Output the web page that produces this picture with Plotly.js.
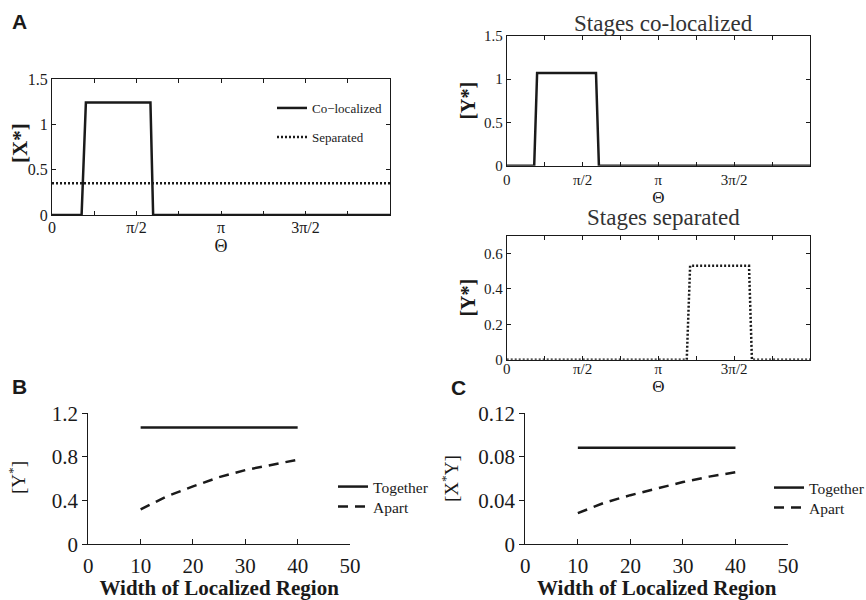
<!DOCTYPE html>
<html>
<head>
<meta charset="utf-8">
<script src="https://cdn.plot.ly/plotly-3.0.1.min.js"></script>
<style>html,body{margin:0;padding:0;background:#fff;overflow:hidden}#chart{width:866px;height:600px;overflow:hidden}</style>
</head>
<body>
<div id="chart"></div>
<script>
// ---- data ----
const PI = Math.PI;
// Panel A: [X*] vs Theta
const thetaCoA = [0, 0.55, 0.63, 1.83, 1.88, 2 * PI];
const xStarCo = [0, 0, 1.24, 1.24, 0, 0];
const thetaSepA = [0, 2 * PI];
const xStarSep = [0.35, 0.35];
// Top right: [Y*] stages co-localized
const thetaCoY = [0, 0.57, 0.63, 1.85, 1.91, 2 * PI];
const yStarCo = [0, 0, 1.07, 1.07, 0, 0];
// Middle right: [Y*] stages separated
const thetaSepY = [0, 3.73, 3.80, 5.02, 5.08, 2 * PI];
const yStarSep = [0, 0, 0.53, 0.53, 0, 0];
// Panel B / C: vs width of localized region
const width = [10, 15, 20, 25, 30, 35, 40];
const yTogether = [1.07, 1.07, 1.07, 1.07, 1.07, 1.07, 1.07];
const yApart = [0.32, 0.44, 0.53, 0.615, 0.68, 0.73, 0.775];
const xyTogether = [0.0885, 0.0885, 0.0885, 0.0885, 0.0885, 0.0885, 0.0885];
const xyApart = [0.0285, 0.038, 0.045, 0.051, 0.057, 0.062, 0.066];
// tick labels
const thetaTickVals = [0, PI / 2, PI, 3 * PI / 2];
const thetaTickText = ['0', 'π/2', 'π', '3π/2'];

// ---- layout helpers ----
const W = 866, H = 600;
const dx = (a, b) => [a / W, b / W];
const dy = (t, b) => [1 - b / H, 1 - t / H];
const SERIF = 'Liberation Serif';
const INK = '#1a1a1a';

function thetaAxis(domain, anchor, fs, lblOff) {
  return {
    domain: domain, anchor: anchor, range: [0, 2 * PI], tickmode: 'array',
    tickvals: thetaTickVals, ticktext: thetaTickText, ticks: 'inside', ticklen: 4,
    tickcolor: INK, showline: true, linecolor: INK, linewidth: 1, mirror: 'ticks',
    showgrid: false, zeroline: false, tickfont: {family: SERIF, size: fs, color: INK},
    ticklabelstandoff: lblOff,
    minor: {dtick: PI / 4, tick0: 0, ticks: 'inside', ticklen: 4, tickcolor: INK, showgrid: false},
    title: {text: 'Θ', font: {family: SERIF, size: fs + 2, color: INK}, standoff: 0}
  };
}
function valAxis(domain, anchor, range, tickvals, fs, title, tfs, standoff) {
  return {
    domain: domain, anchor: anchor, range: range, tickmode: 'array', tickvals: tickvals,
    ticks: 'inside', ticklen: 4, tickcolor: INK, showline: true, linecolor: INK, linewidth: 1,
    mirror: 'ticks', showgrid: false, zeroline: false,
    tickfont: {family: SERIF, size: fs, color: INK},
    title: {text: title, font: {family: SERIF, size: tfs, color: INK}, standoff: standoff}
  };
}
function plainAxis(domain, anchor, range, dtick, tickDir, lblOff, title, tfs, standoff) {
  return {
    domain: domain, anchor: anchor, range: range, tickmode: 'linear', tick0: 0, dtick: dtick,
    ticks: tickDir, ticklen: 5, tickcolor: INK, showline: true, linecolor: INK, linewidth: 1,
    mirror: false, showgrid: false, zeroline: false, ticklabelstandoff: lblOff,
    tickfont: {family: SERIF, size: 21, color: INK},
    title: {text: title, font: {family: SERIF, size: tfs, color: INK}, standoff: standoff}
  };
}

const traces = [
  {x: thetaCoA, y: xStarCo, xaxis: 'x', yaxis: 'y', type: 'scatter', mode: 'lines', name: 'Co−localized',
   line: {color: INK, width: 2.5}, legend: 'legend'},
  {x: thetaSepA, y: xStarSep, xaxis: 'x', yaxis: 'y', type: 'scatter', mode: 'lines', name: 'Separated',
   line: {color: INK, width: 2.5, dash: '2px,2px'}, legend: 'legend2'},
  {x: thetaCoY, y: yStarCo, xaxis: 'x2', yaxis: 'y2', type: 'scatter', mode: 'lines', name: 'Co-localized Y',
   line: {color: INK, width: 2.5}, showlegend: false},
  {x: thetaSepY, y: yStarSep, xaxis: 'x3', yaxis: 'y3', type: 'scatter', mode: 'lines', name: 'Separated Y',
   line: {color: INK, width: 2.5, dash: '2px,2px'}, showlegend: false},
  {x: width, y: yTogether, xaxis: 'x4', yaxis: 'y4', type: 'scatter', mode: 'lines', name: 'Together',
   line: {color: INK, width: 2.5}, legend: 'legend3'},
  {x: width, y: yApart, xaxis: 'x4', yaxis: 'y4', type: 'scatter', mode: 'lines', name: 'Apart',
   line: {color: INK, width: 2.5, dash: '10px,7px'}, legend: 'legend4'},
  {x: width, y: xyTogether, xaxis: 'x5', yaxis: 'y5', type: 'scatter', mode: 'lines', name: 'Together',
   line: {color: INK, width: 2.5}, legend: 'legend5'},
  {x: width, y: xyApart, xaxis: 'x5', yaxis: 'y5', type: 'scatter', mode: 'lines', name: 'Apart',
   line: {color: INK, width: 2.5, dash: '10px,7px'}, legend: 'legend6'}
];

function leg(x, yTop, fs) {
  return {bgcolor: 'rgba(0,0,0,0)', borderwidth: 0, xanchor: 'left', yanchor: 'top', itemwidth: 30,
    x: x / W, y: 1 - yTop / H, font: {family: SERIF, size: fs, color: INK}};
}
function yTitle(text, xc, yc, fs) {
  return {text: text, x: xc / W, y: 1 - yc / H, xref: 'paper', yref: 'paper', xanchor: 'center',
    yanchor: 'middle', textangle: -90, showarrow: false, font: {family: SERIF, size: fs, color: INK}};
}

const layout = {
  width: W, height: H, autosize: false, margin: {l: 0, r: 0, t: 0, b: 0, autoexpand: false},
  paper_bgcolor: '#fff', plot_bgcolor: '#fff', showlegend: true,
  xaxis: thetaAxis(dx(52, 390), 'y', 16, -2),
  yaxis: valAxis(dy(79, 215), 'x', [0, 1.5], [0, 0.5, 1, 1.5], 16, '', 21, 0),
  xaxis2: thetaAxis(dx(506.7, 810), 'y2', 15, 0),
  yaxis2: valAxis(dy(35.7, 165.7), 'x2', [0, 1.5], [0, 0.5, 1, 1.5], 15, '<b>[Y*]</b>', 20, 2),
  xaxis3: thetaAxis(dx(506.7, 810), 'y3', 15, -5),
  yaxis3: valAxis(dy(235.7, 359.7), 'x3', [0, 0.7], [0, 0.2, 0.4, 0.6], 15, '<b>[Y*]</b>', 20, 2),
  xaxis4: plainAxis(dx(88.3, 350), 'y4', [0, 50], 10, 'inside', 2, '<b>Width of Localized Region</b>', 21, 8),
  yaxis4: plainAxis(dy(413.3, 544.3), 'x4', [0, 1.2], 0.4, 'outside', 0, '', 19, 0),
  xaxis5: plainAxis(dx(525.3, 788), 'y5', [0, 50], 10, 'inside', 2, '<b>Width of Localized Region</b>', 21, 8),
  yaxis5: plainAxis(dy(413.3, 544.3), 'x5', [0, 0.12], 0.04, 'outside', 0, '', 19, 0),
  legend: leg(272, 93, 13),
  legend2: leg(272, 122, 13),
  legend3: leg(333, 470, 15.5),
  legend4: leg(333, 490, 15.5),
  legend5: leg(769, 471, 15.5),
  legend6: leg(769, 491, 15.5),
  annotations: [
    yTitle('<b>[X*]</b>', 20, 143, 21),
    yTitle('[Y<sup>*</sup>]', 17, 478, 19),
    yTitle('[X<sup>*</sup>Y]', 450, 479, 19),
    {text: '<b>A</b>', x: 10 / W, y: 1 - 22 / H, xref: 'paper', yref: 'paper', xanchor: 'left', yanchor: 'middle',
     showarrow: false, font: {family: 'Liberation Sans', size: 21, color: INK}},
    {text: '<b>B</b>', x: 10 / W, y: 1 - 386 / H, xref: 'paper', yref: 'paper', xanchor: 'left', yanchor: 'middle',
     showarrow: false, font: {family: 'Liberation Sans', size: 21, color: INK}},
    {text: '<b>C</b>', x: 449 / W, y: 1 - 387 / H, xref: 'paper', yref: 'paper', xanchor: 'left', yanchor: 'middle',
     showarrow: false, font: {family: 'Liberation Sans', size: 21, color: INK}},
    {text: 'Stages co-localized', x: 663 / W, y: 1 - 23 / H, xref: 'paper', yref: 'paper', xanchor: 'center',
     yanchor: 'middle', showarrow: false, font: {family: SERIF, size: 23, color: '#333'}},
    {text: 'Stages separated', x: 663 / W, y: 1 - 218 / H, xref: 'paper', yref: 'paper', xanchor: 'center',
     yanchor: 'middle', showarrow: false, font: {family: SERIF, size: 23, color: '#333'}}
  ]
};

Plotly.newPlot('chart', traces, layout, {displayModeBar: false, staticPlot: true});
</script>
</body>
</html>
